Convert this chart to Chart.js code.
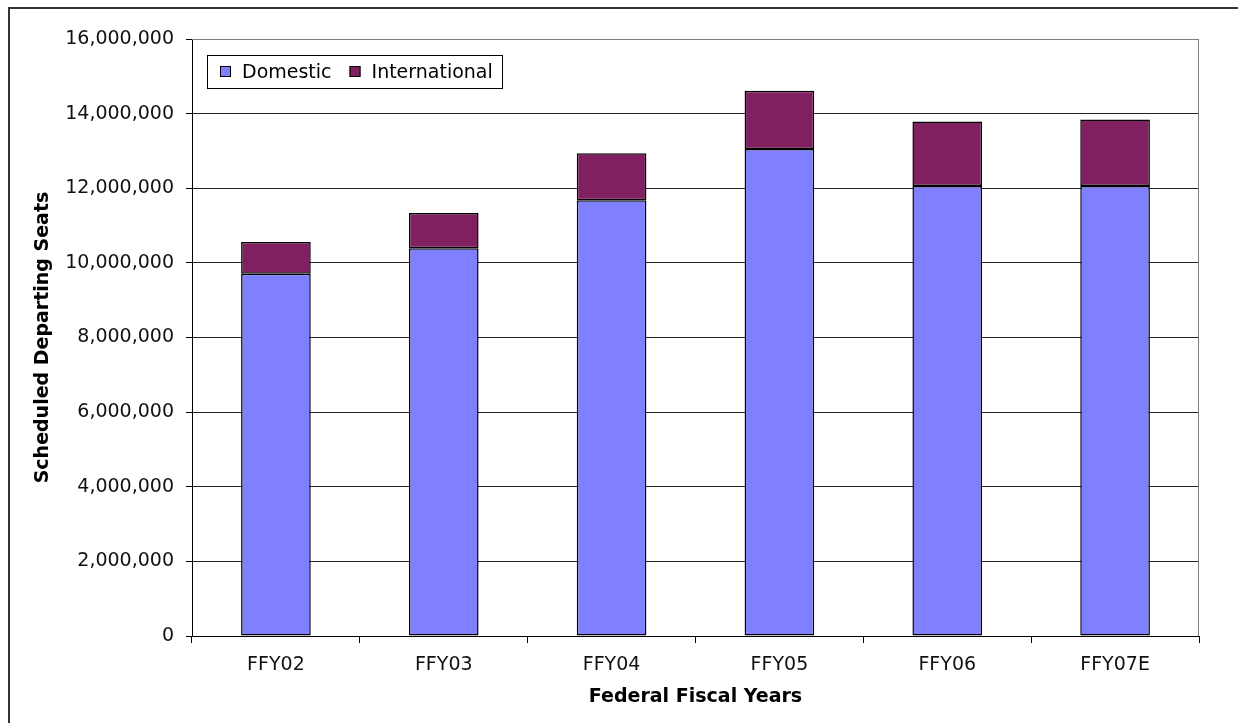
<!DOCTYPE html>
<html>
<head>
<meta charset="utf-8">
<script src="https://cdn.jsdelivr.net/npm/chart.js@4.4.1/dist/chart.umd.min.js"></script>
<style>
  html, body { margin: 0; padding: 0; background: #fff; }
  #wrap { width: 1238px; height: 723px; position: relative; }
</style>
</head>
<body>
<div id="wrap"><canvas id="c" width="1238" height="723"></canvas></div>
<script>
// Scheduled departing seats by federal fiscal year
const categories = ['FFY02', 'FFY03', 'FFY04', 'FFY05', 'FFY06', 'FFY07E'];
const domestic = [9710000, 10390000, 11680000, 13050000, 12060000, 12060000];
const international = [850000, 950000, 1260000, 1560000, 1730000, 1780000];
const yTicks = [0, 2000000, 4000000, 6000000, 8000000, 10000000, 12000000, 14000000, 16000000];

const FONT = "'DejaVu Sans', Verdana, sans-serif";
const FONT_SIZE = 19;

// Legend box inside the plot area, plus the plot and figure frames
const insideLegend = {
  id: 'insideLegend',
  afterDraw(chart) {
    const ctx = chart.ctx;
    const area = chart.chartArea;
    ctx.save();
    // plot area frame (top & right, grey)
    ctx.strokeStyle = '#808080';
    ctx.lineWidth = 1;
    ctx.beginPath();
    ctx.moveTo(area.left, Math.round(area.top) + 0.5);
    ctx.lineTo(Math.round(area.right) - 0.5, Math.round(area.top) + 0.5);
    ctx.lineTo(Math.round(area.right) - 0.5, area.bottom);
    ctx.stroke();

    // figure frame (left & top)
    ctx.strokeStyle = '#333';
    ctx.lineWidth = 2;
    ctx.beginPath();
    ctx.moveTo(9, 723);
    ctx.lineTo(9, 8);
    ctx.lineTo(1238, 8);
    ctx.stroke();

    // legend
    const x0 = 207.5, y0 = 55.5, w = 295, h = 33;
    ctx.fillStyle = '#fff';
    ctx.fillRect(x0, y0, w, h);
    ctx.strokeStyle = '#000';
    ctx.lineWidth = 1;
    ctx.strokeRect(x0, y0, w, h);
    ctx.font = FONT_SIZE + 'px ' + FONT;
    ctx.textBaseline = 'middle';
    ctx.textAlign = 'left';
    let x = Math.round(x0 + 12);
    const cy = Math.round(y0 + h / 2);
    chart.data.datasets.forEach((ds) => {
      ctx.fillStyle = ds.backgroundColor;
      ctx.fillRect(x, cy - 6, 11, 11);
      ctx.strokeStyle = '#000';
      ctx.strokeRect(x + 0.5, cy - 6 + 0.5, 10, 10);
      ctx.fillStyle = '#000';
      ctx.fillText(ds.label, x + 22, cy + 1);
      x += 22 + ctx.measureText(ds.label).width + 18;
    });
    ctx.restore();
  }
};

new Chart(document.getElementById('c'), {
  type: 'bar',
  data: {
    labels: categories,
    datasets: [
      { label: 'Domestic', data: domestic, backgroundColor: '#8080FF', borderColor: '#000', borderWidth: 1.5, borderSkipped: false },
      { label: 'International', data: international, backgroundColor: '#802060', borderColor: '#000', borderWidth: 1.5, borderSkipped: false }
    ]
  },
  options: {
    responsive: false,
    animation: false,
    events: [],
    layout: { padding: { top: 39, right: 39, bottom: 0, left: 24 } },
    plugins: {
      legend: { display: false },
      tooltip: { enabled: false }
    },
    datasets: { bar: { categoryPercentage: 1.0, barPercentage: 0.415 } },
    scales: {
      x: {
        stacked: true,
        offset: true,
        grid: { display: true, offset: true, drawOnChartArea: false, color: '#000', tickLength: 7, tickColor: '#000' },
        border: { display: true, color: '#000', width: 1 },
        ticks: { color: '#111', font: { family: FONT, size: FONT_SIZE }, padding: 11 },
        title: { display: true, text: 'Federal Fiscal Years', color: '#000', font: { family: FONT, size: FONT_SIZE, weight: 'bold' }, padding: { top: 4, bottom: 15 } },
        afterFit(scale) { scale.height = 87; }
      },
      y: {
        stacked: true,
        min: 0,
        max: 16000000,
        afterBuildTicks(scale) { scale.ticks = yTicks.map(v => ({ value: v })); },
        grid: {
          display: true,
          color: (c) => (c.tick && c.tick.value === 16000000 ? '#808080' : '#222'),
          lineWidth: 1,
          tickLength: 6,
          tickColor: '#000'
        },
        border: { display: true, color: '#000', width: 1 },
        ticks: {
          color: '#111',
          font: { family: FONT, size: FONT_SIZE },
          padding: 12,
          callback: (v) => v.toLocaleString('en-US')
        },
        title: { display: true, text: 'Scheduled Departing Seats', color: '#000', font: { family: FONT, size: FONT_SIZE, weight: 'bold' }, padding: { top: 8, bottom: 4 } },
        afterFit(scale) { scale.width = 168; }
      }
    }
  },
  plugins: [insideLegend]
});
</script>
</body>
</html>
